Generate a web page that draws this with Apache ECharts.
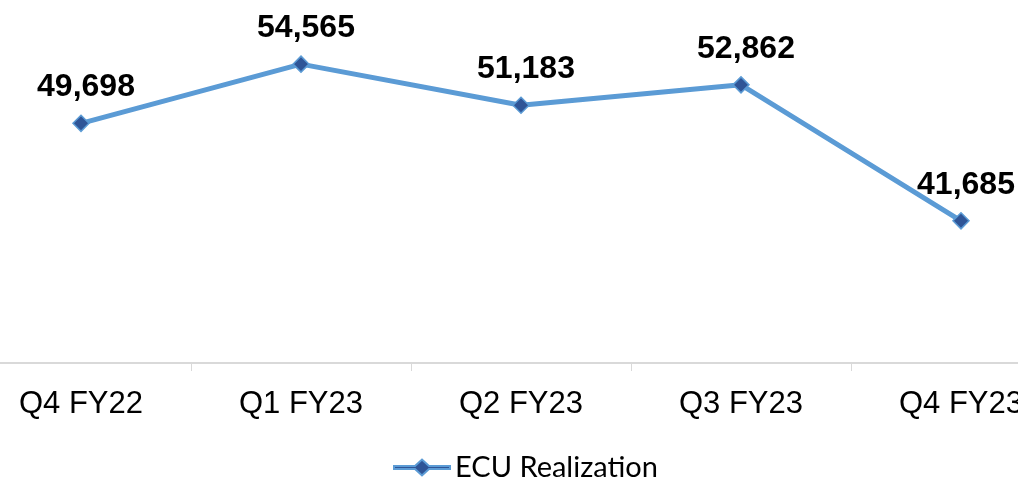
<!DOCTYPE html>
<html><head><meta charset="utf-8">
<script src="https://cdn.jsdelivr.net/npm/echarts@6/dist/echarts.min.js"></script>
<style>html,body{margin:0;padding:0;background:#fff;}#c{width:1018px;height:481px;}</style>
</head><body><div id="c"></div>
<script>
const categories = ['Q4 FY22','Q1 FY23','Q2 FY23','Q3 FY23','Q4 FY23'];
const values = [49698, 54565, 51183, 52862, 41685];
const seriesName = 'ECU Realization';

const chart = echarts.init(document.getElementById('c'));
chart.setOption({
  animation: false,
  grid: { left: -29, width: 1100, top: -2, bottom: 118, containLabel: false, outerBoundsMode: 'none' },
  legend: {
    bottom: -6, left: 388,
    itemWidth: 56, itemHeight: 16, itemGap: 6,
    textStyle: { fontFamily: 'Lato, sans-serif', fontSize: 29, color: '#000' },
    data: [{ name: seriesName, icon: 'path://M0,6.5 L21,6.5 L28,0 L35,6.5 L56,6.5 L56,9.5 L35,9.5 L28,16 L21,9.5 L0,9.5 Z' }]
  },
  xAxis: {
    type: 'category', data: categories, boundaryGap: true,
    axisLine: { lineStyle: { color: '#d9d9d9', width: 2 } },
    axisTick: { show: true, length: 8, lineStyle: { color: '#d9d9d9' } },
    axisLabel: { fontFamily: 'Liberation Sans, Arial, sans-serif', fontSize: 31, color: '#000', margin: 26 }
  },
  yAxis: {
    type: 'value', min: 30000, max: 60000, show: false,
    splitLine: { show: false }
  },
  series: [{
    name: seriesName, type: 'line', data: values,
    symbol: 'diamond', symbolSize: 16,
    lineStyle: { color: '#5b9bd5', width: 5 },
    itemStyle: { color: '#2f5597', borderColor: '#5b9bd5', borderWidth: 1.5 },
    label: {
      show: true, position: 'top', distance: 8, offset: [5, -3],
      fontFamily: 'Liberation Sans, Arial, sans-serif', fontWeight: 'bold', fontSize: 32, color: '#000',
      formatter: p => p.value.toLocaleString('en-US')
    }
  }]
});
</script></body></html>
